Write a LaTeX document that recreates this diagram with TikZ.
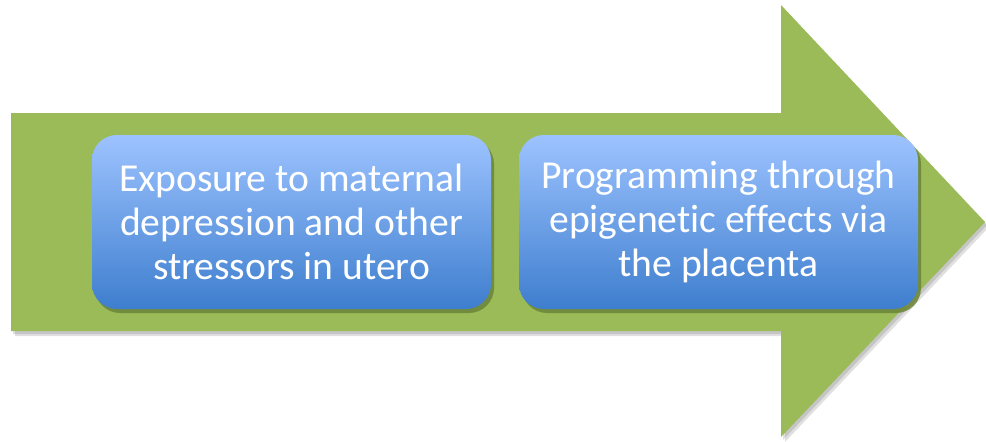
\documentclass[tikz,border=0pt]{standalone}
\usepackage{fontspec}
\setmainfont[Ligatures={NoCommon}]{Carlito}
\usetikzlibrary{shadows,shapes.misc}
\definecolor{arrowgreen}{RGB}{155,187,89}
\definecolor{boxtop}{RGB}{157,195,255}
\definecolor{boxbot}{RGB}{62,126,206}
\definecolor{boxshadow}{RGB}{110,135,60}
\tikzset{
  stepbox/.style={rounded corners=25pt, minimum width=399pt, minimum height=174pt,
    top color=boxtop, bottom color=boxbot, draw=none, text=white, align=center,
    font=\fontsize{39.6}{44}\selectfont, inner sep=0pt,
    drop shadow={shadow xshift=3pt, shadow yshift=-4pt, fill=boxshadow, opacity=0.9}},
}
\begin{document}
\begin{tikzpicture}[x=1pt,y=-1pt]
\useasboundingbox (0,0) rectangle (986,442);
% arrow shadow
\fill[black,opacity=0.12] (15,118) -- (785,118) -- (785,10) -- (989,227) -- (785,442) -- (785,336) -- (15,336) -- cycle;
\fill[black,opacity=0.12] (13,116) -- (783,116) -- (783,8) -- (987,225) -- (783,440) -- (783,334) -- (13,334) -- cycle;
% arrow
\fill[arrowgreen] (11,113) -- (781,113) -- (781,5) -- (985,222) -- (781,437) -- (781,331) -- (11,331) -- cycle;
\node[stepbox] (b1) at (291.5,222) {Exposure to maternal\\depression and other\\stressors in utero};
\node[stepbox] (b2) at (718.5,222) {Programming through\\epigenetic effects via\\the placenta};
\end{tikzpicture}
\end{document}
